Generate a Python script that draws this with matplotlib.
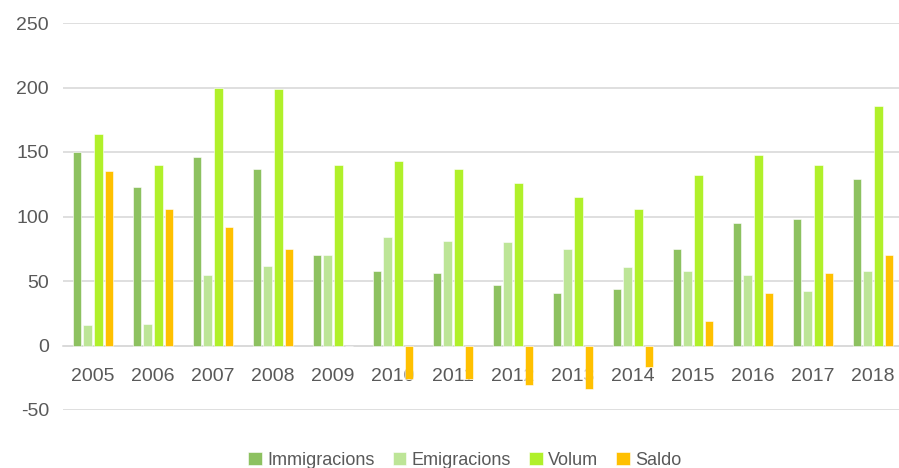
import numpy as np
import matplotlib
matplotlib.use("Agg")
import matplotlib.pyplot as plt

years = ['2005', '2006', '2007', '2008', '2009', '2010', '2011',
         '2012', '2013', '2014', '2015', '2016', '2017', '2018']
immigracions = [150, 123, 146, 137, 70, 58, 56, 47, 41, 44, 75, 95, 98, 129]
emigracions = [16, 17, 55, 62, 70, 84, 81, 80, 75, 61, 58, 55, 42, 58]
volum = [164, 140, 200, 199, 140, 143, 137, 126, 115, 106, 132, 148, 140, 186]
saldo = [135, 106, 92, 75, 0, -26, -26, -31, -34, -17, 19, 41, 56, 70]

series = [
    ('Immigracions', immigracions, '#8dc160'),
    ('Emigracions', emigracions, '#bde597'),
    ('Volum', volum, '#b0f02a'),
    ('Saldo', saldo, '#ffc000'),
]

plt.rcParams['font.family'] = ['Liberation Sans', 'DejaVu Sans']
plt.rcParams['axes.unicode_minus'] = False
text_color = '#595959'

fig = plt.figure(figsize=(8.99, 4.68), dpi=100)
ax = fig.add_axes([63 / 899, 58 / 468, 840 / 899, 387 / 468])

x = np.arange(len(years))
step = 0.18
width = 0.14
for k, (name, vals, color) in enumerate(series):
    ax.bar(x + (k - 1.5) * step, vals, width, color=color, label=name,
           edgecolor='white', linewidth=0.4, zorder=3)

ax.set_xlim(-0.5, len(years) - 0.5)
ax.set_ylim(-50, 250)
ax.set_yticks(range(-50, 251, 50))
ax.set_xticks(x)
ax.set_xticklabels(years)

ax.set_axisbelow(True)
ax.yaxis.grid(True, color='#d9d9d9', linewidth=1.2)
for s in ['top', 'right', 'left']:
    ax.spines[s].set_visible(False)
ax.spines['bottom'].set_position(('data', 0))
ax.spines['bottom'].set_color('#d9d9d9')
ax.spines['bottom'].set_linewidth(1.2)
ax.spines['bottom'].set_zorder(2)
ax.tick_params(axis='x', length=0, pad=16, labelsize=14, labelcolor=text_color)
ax.tick_params(axis='y', length=0, pad=10, labelsize=14, labelcolor=text_color)

fig.legend(loc='center', bbox_to_anchor=(0.517, 0.016), ncol=4, frameon=False,
           fontsize=13, labelcolor=text_color, handlelength=0.75, handleheight=0.75,
           handletextpad=0.3, columnspacing=1.0)

fig.savefig('out.png', dpi=100)
